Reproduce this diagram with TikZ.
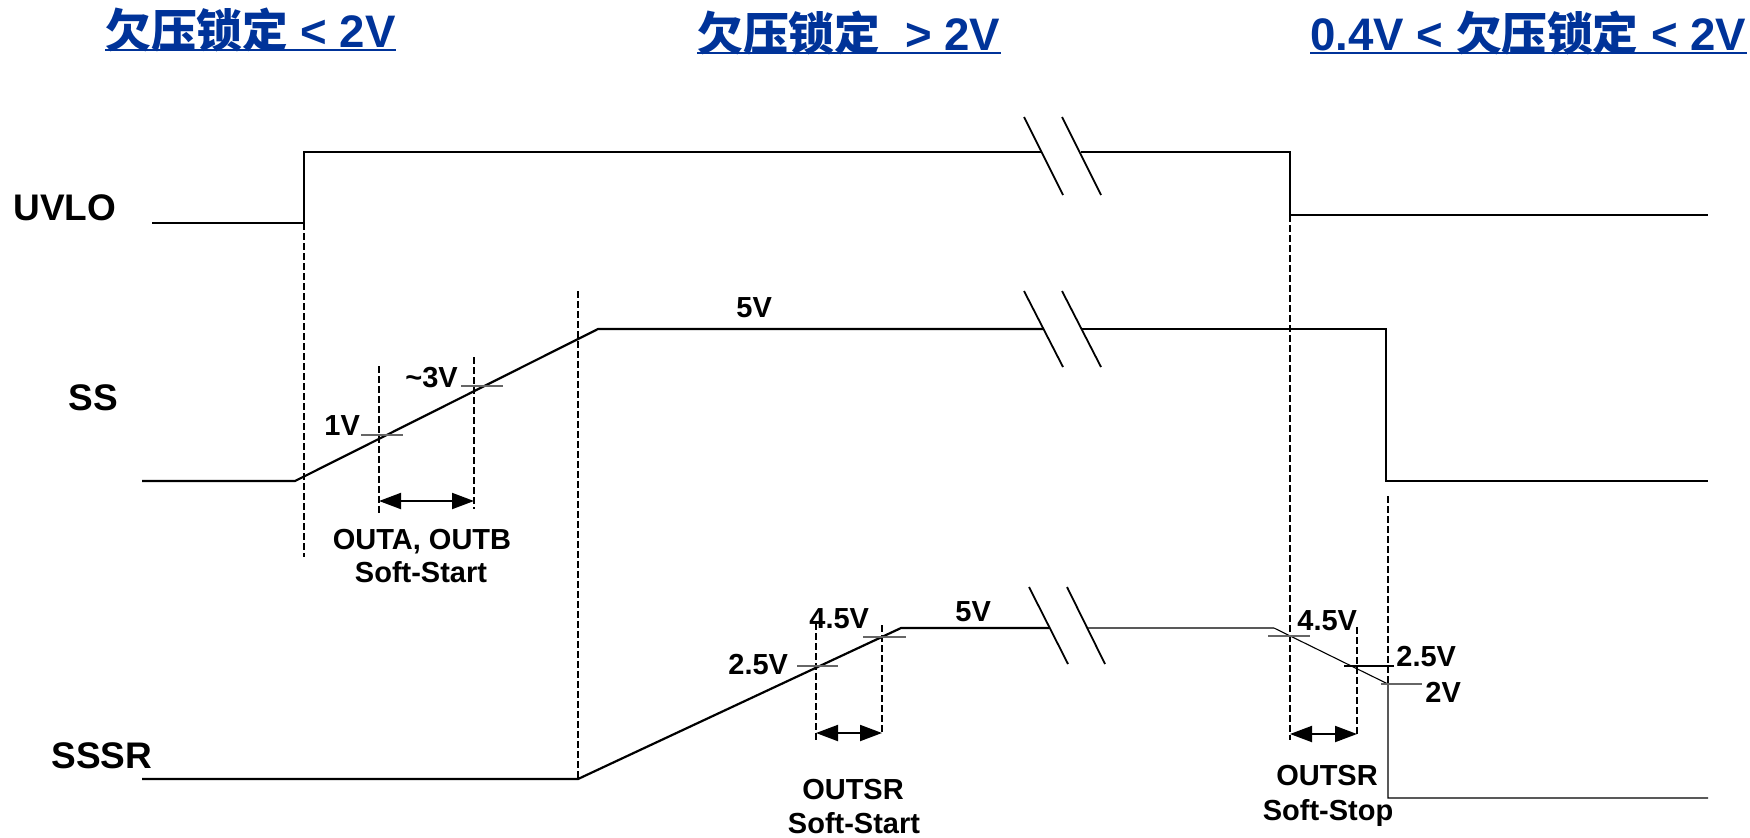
\documentclass[tikz,border=0pt]{standalone}
\usepackage{fontspec}
\setmainfont{Liberation Sans}
\newfontfamily\cjk{Noto Sans CJK SC}
\usetikzlibrary{arrows.meta}
\definecolor{titleblue}{RGB}{0,51,153}
\begin{document}
\begin{tikzpicture}[x=0.5pt,y=-0.5pt,
  sig/.style={line width=1.1pt, line join=miter},
  thinsig/.style={line width=0.55pt},
  tick/.style={line width=0.55pt, black!60},
  guide/.style={line width=1pt, dash pattern=on 3.3pt off 1.7pt},
  brk/.style={line width=0.9pt},
  span/.style={line width=1pt, {Triangle[length=11pt,width=8pt]}-{Triangle[length=11pt,width=8pt]}},
  lab/.style={inner sep=0, font=\bfseries\fontsize{18.5}{20}\selectfont, anchor=base west},
  val/.style={inner sep=0, font=\bfseries\fontsize{14.5}{16}\selectfont, anchor=base west},
  capt/.style={inner sep=0, font=\bfseries\fontsize{14.5}{16}\selectfont, anchor=base},
  ttl/.style={inner sep=0, font=\bfseries\fontsize{22.8}{24}\selectfont, text=titleblue, anchor=base west},
  uline/.style={titleblue, line width=1pt}
]
\useasboundingbox (0,0) rectangle (1750,837);

% titles
\node[ttl] (t1) at (105,47) {{\cjk\bfseries 欠压锁定} < 2V};
\node[ttl] (t2) at (697,50) {{\cjk\bfseries 欠压锁定}\ \ > 2V};
\node[ttl] (t3) at (1310,50) {0.4V < {\cjk\bfseries 欠压锁定} < 2V};
\draw[uline] ([yshift=-1.6pt]t1.base west) -- ([yshift=-1.6pt]t1.base east);
\draw[uline] ([yshift=-1.6pt]t2.base west) -- ([yshift=-1.6pt]t2.base east);
\draw[uline] ([yshift=-1.6pt]t3.base west) -- ([yshift=-1.6pt]t3.base east);

% signal names
\node[lab] (uvlo) at (13,220) {UVLO};
\node[lab] (ss) at (68,410) {SS};
\node[lab] (sssr) at (51,768) {SSSR};

% UVLO
\draw[sig] (152,223) -- (304,223) -- (304,152) -- (1042,152);
\draw[sig] (1081,152) -- (1290,152) -- (1290,215) -- (1708,215);
\draw[brk] (1024,117) -- (1063,195);
\draw[brk] (1062,117) -- (1101,195);

% SS
\draw[sig] (142,481) -- (295,481) -- (598,329) -- (1043,329);
\draw[sig] (1082,329) -- (1386,329) -- (1386,481) -- (1708,481);
\draw[brk] (1024,291) -- (1063,367);
\draw[brk] (1062,291) -- (1101,367);

% SSSR
\draw[sig] (142,779) -- (578,779) -- (901,628) -- (1049,628);
\draw[thinsig, black!65] (1087,628) -- (1274,628);
\draw[thinsig] (1274,628) -- (1388,684) -- (1388,798) -- (1708,798);
\draw[brk] (1029,587) -- (1068,664);
\draw[brk] (1067,587) -- (1105,664);

% dashed guides
\draw[guide] (304,223) -- (304,557);
\draw[guide] (379,366) -- (379,513);
\draw[guide] (474,357) -- (474,509);
\draw[guide] (578,291) -- (578,779);
\draw[guide] (816,623) -- (816,740);
\draw[guide] (882,625) -- (882,733);
\draw[guide] (1290,215) -- (1290,740);
\draw[guide] (1357,627) -- (1357,735);
\draw[guide] (1388,496) -- (1388,684);

% level ticks
\draw[tick] (361,435) -- (403,435);
\draw[tick] (461,386) -- (503,386);
\draw[tick] (797,666) -- (838,666);
\draw[tick] (863,637) -- (906,637);
\draw[tick] (1268,636) -- (1310,636);
\draw[thinsig] (1344,666) -- (1394,666);
\draw[tick] (1381,684) -- (1422,684);

% interval arrows
\draw[span] (379,501) -- (474,501);
\draw[span] (816,733) -- (882,733);
\draw[span] (1290,734) -- (1357,734);

% value labels
\node[val] (v1) at (324,435) {1V};
\node[val] (v3) at (405,387) {\textasciitilde 3V};
\node[val] (v5a) at (736,317) {5V};
\node[val] (v5b) at (955,621) {5V};
\node[val] (v45a) at (809,628) {4.5V};
\node[val] (v25a) at (728,674) {2.5V};
\node[val] (v45b) at (1297,630) {4.5V};
\node[val] (v25b) at (1396,666) {2.5V};
\node[val] (v2) at (1425,702) {2V};

% captions
\node[capt] (c1a) at (422,549) {OUTA, OUTB};
\node[capt] (c1b) at (421,582) {Soft-Start};
\node[capt] (c2a) at (853,799) {OUTSR};
\node[capt] (c2b) at (854,833) {Soft-Start};
\node[capt] (c3a) at (1327,785) {OUTSR};
\node[capt] (c3b) at (1328,820) {Soft-Stop};
\end{tikzpicture}
\end{document}
